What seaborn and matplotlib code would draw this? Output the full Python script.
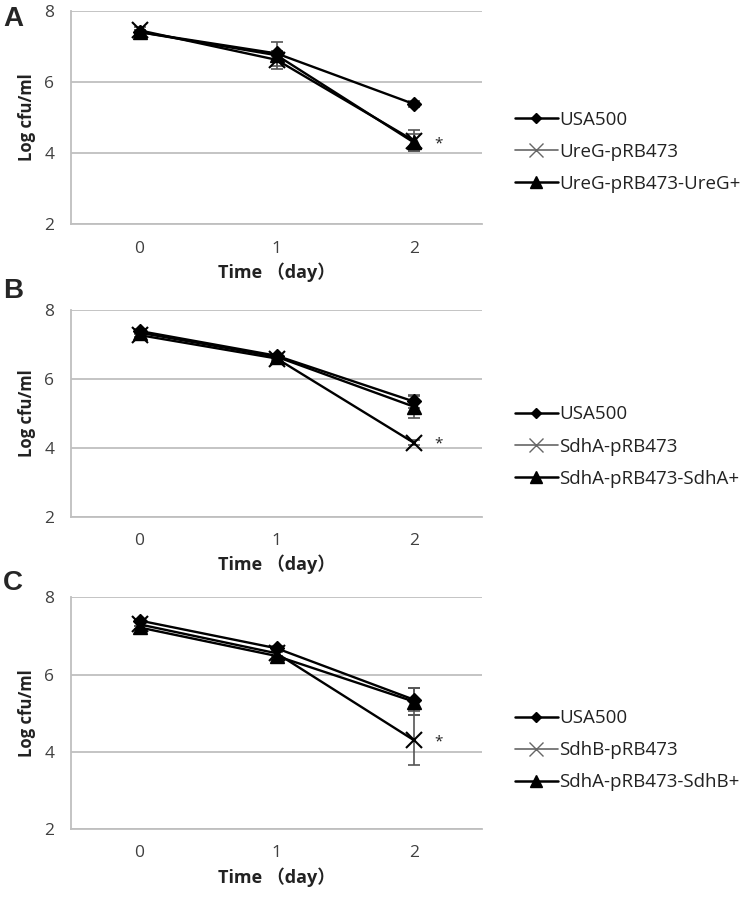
import matplotlib
matplotlib.use("Agg")
import matplotlib.pyplot as plt
from matplotlib.ticker import FixedLocator
import seaborn as sns
import pandas as pd

days = [0, 1, 2]

# panel A
a_names = ['USA500', 'UreG-pRB473', 'UreG-pRB473-UreG+']
a_means = [[7.40, 6.80, 5.38], [7.45, 6.62, 4.35], [7.40, 6.75, 4.30]]
a_errs = [[0.05, 0.08, 0.08], [0.08, 0.18, 0.30], [0.05, 0.38, 0.25]]

# panel B
b_names = ['USA500', 'SdhA-pRB473', 'SdhA-pRB473-SdhA+']
b_means = [[7.40, 6.68, 5.35], [7.28, 6.60, 4.15], [7.35, 6.65, 5.20]]
b_errs = [[0.05, 0.05, 0.20], [0.05, 0.08, 0.08], [0.05, 0.05, 0.32]]

# panel C
c_names = ['USA500', 'SdhB-pRB473', 'SdhA-pRB473-SdhB+']
c_means = [[7.40, 6.68, 5.35], [7.30, 6.55, 4.30], [7.22, 6.48, 5.30]]
c_errs = [[0.05, 0.05, 0.30], [0.05, 0.06, 0.65], [0.05, 0.10, 0.35]]

panel_letters = ['A', 'B', 'C']
star_y = [4.25, 4.1, 4.25]

sns.set_style('white')
plt.rcParams['font.family'] = ['Open Sans', 'Noto Sans CJK SC']

markers = ['D', 'x', '^']
msizes = [7, 12, 10]
mew = [1, 1.5, 1]
grid_c = '#bfbfbf'
text_c = '#404040'

fig = plt.figure(figsize=(7.56, 8.97), dpi=100)
# left, bottom, width, height in figure fraction
boxes = [[0.094, 0.750, 0.544, 0.238],
         [0.094, 0.424, 0.544, 0.230],
         [0.094, 0.076, 0.544, 0.258]]
letter_y = [0.993, 0.690, 0.364]

panels = [(a_names, a_means, a_errs), (b_names, b_means, b_errs), (c_names, c_means, c_errs)]

for i, (names, means, errs) in enumerate(panels):
    ax = fig.add_axes(boxes[i])
    rows = []
    for n, m in zip(names, means):
        for d, v in zip(days, m):
            rows.append({'day': d, 'value': v, 'strain': n})
    df = pd.DataFrame(rows)
    handles = []
    for k, n in enumerate(names):
        sub = df[df['strain'] == n]
        ax.errorbar(sub['day'], sub['value'], yerr=errs[k], fmt='none',
                    ecolor='#555555', elinewidth=1.2, capsize=4, capthick=1.2, zorder=2)
        sns.lineplot(data=sub, x='day', y='value', ax=ax, color='black', linewidth=1.7,
                     marker=markers[k], markersize=msizes[k], markeredgewidth=mew[k],
                     markeredgecolor='black', zorder=3)
    # legend handles
    for k, n in enumerate(names):
        col = '#666666' if k == 1 else 'black'
        lw = 1.2 if k == 1 else 1.8
        h, = ax.plot([], [], color=col, lw=lw, marker=markers[k],
                     markersize=msizes[k] - 2, markeredgecolor=col, markerfacecolor=col)
        handles.append(h)
    ax.legend(handles, names, loc='center left', bbox_to_anchor=(1.06, 0.34),
              frameon=False, fontsize=13.5, handlelength=2.3, handletextpad=0.1,
              labelspacing=0.75, labelcolor='#222222', borderaxespad=0)

    ax.set_xlim(-0.5, 2.5)
    ax.set_ylim(2, 8)
    ax.set_yticks([2, 4, 6, 8])
    ax.set_xticks(days)
    ax.xaxis.set_minor_locator(FixedLocator([-0.5, 0.5, 1.5, 2.5]))
    ax.tick_params(axis='x', which='major', length=0, labelsize=12.5, labelcolor=text_c, pad=12)
    ax.tick_params(axis='x', which='minor', length=6, color=grid_c, width=1, direction='out')
    ax.tick_params(axis='y', length=7, color=grid_c, width=1, labelsize=12.5,
                   labelcolor=text_c, direction='out', pad=5)
    ax.yaxis.grid(True, color=grid_c, linewidth=1.3)
    ax.set_axisbelow(True)
    for s in ['top', 'right']:
        ax.spines[s].set_visible(False)
    for s in ['left', 'bottom']:
        ax.spines[s].set_color(grid_c)
        ax.spines[s].set_linewidth(1.3)
    ax.set_xlabel('Time （day）', fontsize=13, fontweight='bold', color='#222222', labelpad=4)
    ax.set_ylabel('Log cfu/ml', fontsize=12, fontweight='bold', color='#222222', labelpad=6)
    ax.text(2.18, star_y[i], '*', fontsize=11, color='#222222', ha='center', va='center')
    fig.text(0.004, letter_y[i], panel_letters[i], fontsize=20, fontweight='bold',
             family=['Liberation Sans', 'DejaVu Sans'], va='top', ha='left')

fig.savefig('out.png', dpi=100)
